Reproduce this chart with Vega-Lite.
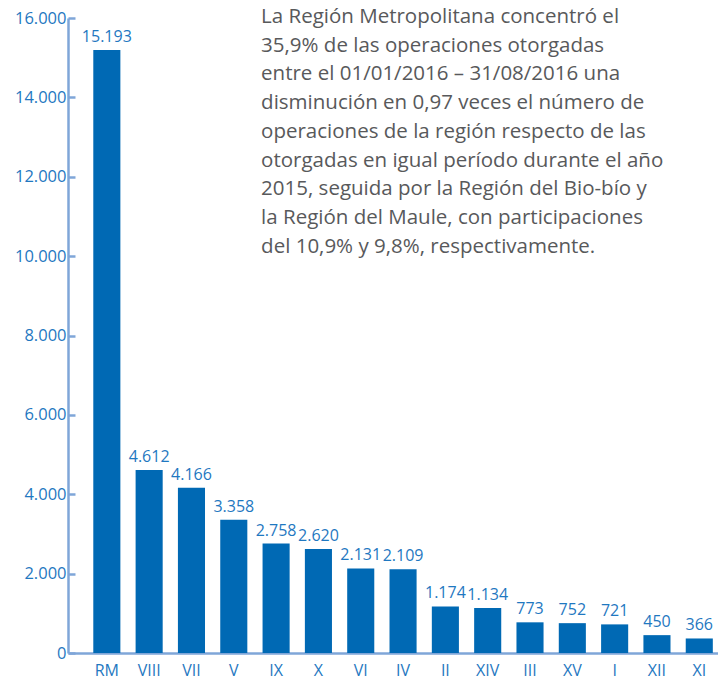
{
  "$schema": "https://vega.github.io/schema/vega-lite/v6.json",
  "width": 650,
  "height": 635,
  "autosize": {"type": "none"},
  "padding": {"left": 68, "top": 18, "right": 0, "bottom": 30},
  "background": "white",
  "config": {
    "view": {"stroke": null},
    "locale": {"number": {"decimal": ",", "thousands": ".", "grouping": [3], "currency": ["$", ""]}},
    "font": "Open Sans"
  },
  "data": {
    "values": [
      {"region": "RM", "ops": 15193},
      {"region": "VIII", "ops": 4612},
      {"region": "VII", "ops": 4166},
      {"region": "V", "ops": 3358},
      {"region": "IX", "ops": 2758},
      {"region": "X", "ops": 2620},
      {"region": "VI", "ops": 2131},
      {"region": "IV", "ops": 2109},
      {"region": "II", "ops": 1174},
      {"region": "XIV", "ops": 1134},
      {"region": "III", "ops": 773},
      {"region": "XV", "ops": 752},
      {"region": "I", "ops": 721},
      {"region": "XII", "ops": 450},
      {"region": "XI", "ops": 366}
    ]
  },
  "encoding": {
    "x": {
      "field": "region", "type": "nominal", "sort": null,
      "scale": {"paddingInner": 0.36, "paddingOuter": 0.36, "align": 0.83},
      "axis": {
        "title": null, "labelAngle": 0, "ticks": false, "labelPadding": 9,
        "labelFontSize": 16, "labelColor": "#1F78C1",
        "domainColor": "#7FA6D8", "domainWidth": 2.5
      }
    },
    "y": {
      "field": "ops", "type": "quantitative",
      "scale": {"domain": [0, 16000], "nice": false},
      "axis": {
        "title": null, "values": [0, 2000, 4000, 6000, 8000, 10000, 12000, 14000, 16000],
        "format": ",d", "grid": false, "tickSize": -7, "tickWidth": 2.5, "tickColor": "#7FA6D8",
        "domainColor": "#7FA6D8", "domainWidth": 2.5,
        "labelFontSize": 16.5, "labelColor": "#1F78C1", "labelPadding": 9
      }
    }
  },
  "layer": [
    {"mark": {"type": "bar", "color": "#0069B4"}},
    {
      "mark": {"type": "text", "baseline": "bottom", "dy": -5, "fontSize": 16, "color": "#1F78C1"},
      "encoding": {"text": {"field": "ops", "type": "quantitative", "format": ",d"}}
    },
    {
      "data": {"values": [{"region": "IX", "ops": 16000, "txt": ["La Región Metropolitana concentró el", "35,9% de las operaciones otorgadas", "entre el 01/01/2016 – 31/08/2016 una", "disminución en 0,97 veces el número de", "operaciones de la región respecto de las", "otorgadas en igual período durante el año", "2015, seguida por la Región del Bio-bío y", "la Región del Maule, con participaciones", "del 10,9% y 9,8%, respectivamente."]}]},
      "mark": {"type": "text", "align": "left", "baseline": "top", "dx": -15, "dy": -11, "fontSize": 20.5, "lineHeight": 28.7, "color": "#58595B"},
      "encoding": {"text": {"field": "txt"}}
    }
  ]
}
